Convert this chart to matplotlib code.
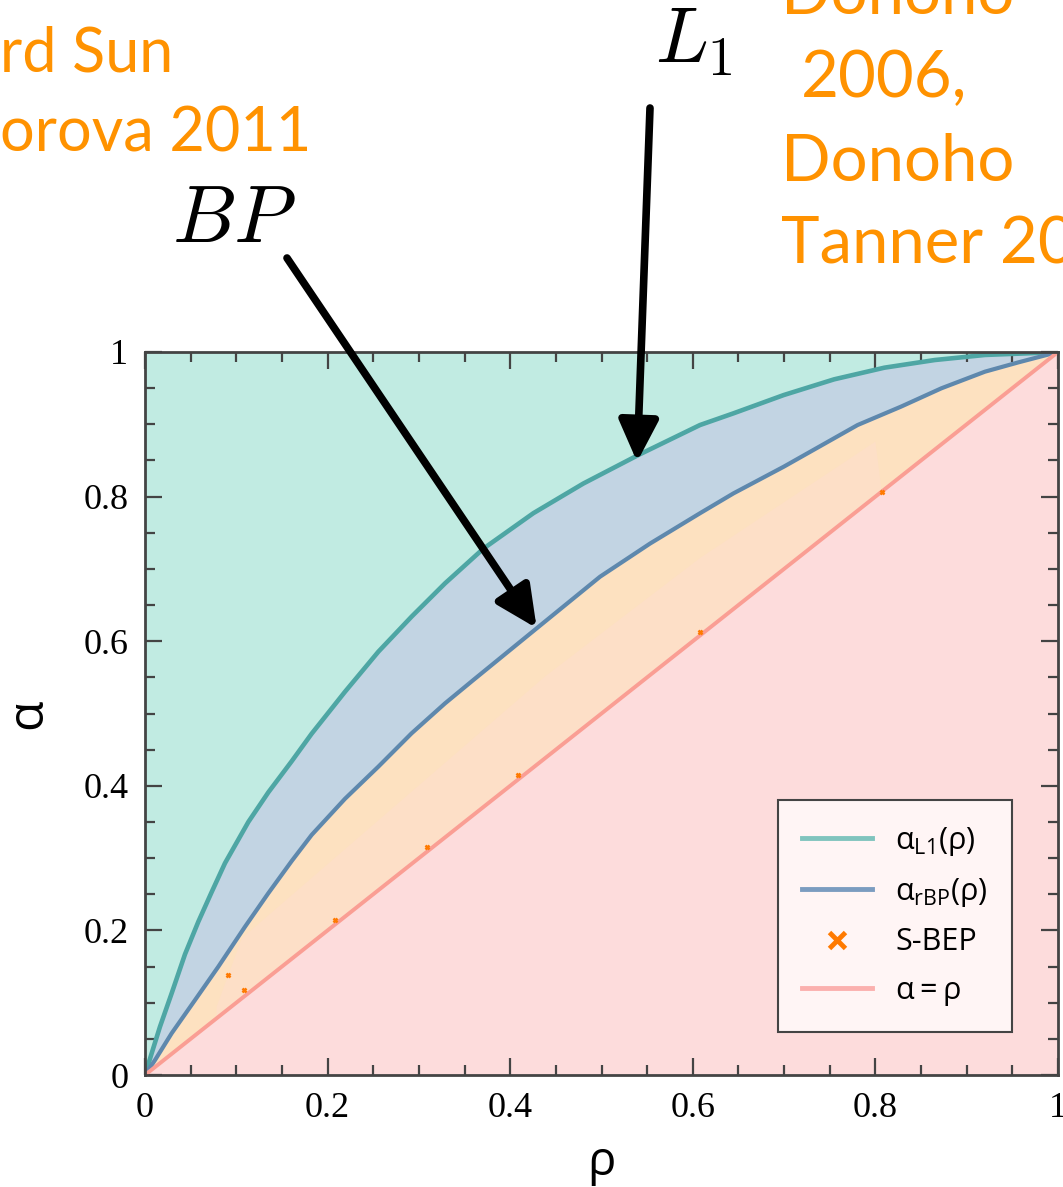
import matplotlib
matplotlib.use('Agg')
import matplotlib.pyplot as plt
from matplotlib.lines import Line2D
from matplotlib.ticker import MultipleLocator

# curves
rho_l1 = [0, 0.0073, 0.0164, 0.0292, 0.0438, 0.0584, 0.073, 0.0876, 0.1132, 0.1351,
          0.1607, 0.1825, 0.219, 0.2556, 0.292, 0.3286, 0.3706, 0.4253, 0.480, 0.5403,
          0.6079, 0.6446, 0.6997, 0.7548, 0.8098, 0.865, 0.920, 0.975, 1.0]
alpha_l1 = [0, 0.030, 0.0668, 0.113, 0.167, 0.212, 0.253, 0.293, 0.350, 0.391,
            0.434, 0.472, 0.530, 0.5855, 0.634, 0.680, 0.728, 0.777, 0.818, 0.8575,
            0.899, 0.9152, 0.9405, 0.9622, 0.9783, 0.9889, 0.9959, 0.9986, 1.0]

rho_bp = [0, 0.011, 0.0292, 0.0548, 0.0803, 0.1095, 0.135, 0.1607, 0.1825, 0.219,
          0.2556, 0.292, 0.3286, 0.3596, 0.429, 0.4984, 0.5531, 0.6079, 0.6446, 0.6997,
          0.7805, 0.828, 0.8723, 0.920, 0.9567, 1.0]
alpha_bp = [0, 0.0207, 0.0577, 0.1037, 0.1498, 0.205, 0.2513, 0.296, 0.332, 0.382,
            0.4265, 0.4726, 0.514, 0.5463, 0.6178, 0.6892, 0.735, 0.777, 0.8045, 0.8414,
            0.899, 0.9244, 0.9498, 0.9728, 0.9857, 1.0]

# faint S-BEP region inside the orange band
sbep_reg_rho = [0.0785, 0.106, 0.438, 0.6079, 0.80, 0.807, 0.0785]
sbep_reg_alpha = [0.0945, 0.189, 0.551, 0.715, 0.876, 0.806, 0.0785]

sbep_rho = [0.0905, 0.108, 0.208, 0.3085, 0.408, 0.608, 0.807]
sbep_alpha = [0.138, 0.1176, 0.215, 0.316, 0.4145, 0.613, 0.806]

diag = [0, 1]

ticks = [0, 0.2, 0.4, 0.6, 0.8, 1]
tick_labels = ['0', '0.2', '0.4', '0.6', '0.8', '1']
legend_labels = [r'$\mathregular{α_{L1}(ρ)}$', r'$\mathregular{α_{rBP}(ρ)}$',
                 'S-BEP', r'$\mathregular{α = ρ}$']

teal_fill, blue_fill, orange_fill, pink_fill = '#c1ebe2', '#c2d4e3', '#fde1c0', '#fddcdc'
teal_line, blue_line, pink_line = '#4ea6a4', '#5e88ad', '#fa9e94'
orange = '#ff9200'
mark = '#ff7a00'
gray = '#444444'

fig = plt.figure(figsize=(10.63, 11.87), dpi=100)
ax = fig.add_axes([145 / 1063, 1 - 1075 / 1187, 913 / 1063, 723 / 1187])

ax.set_facecolor(teal_fill)
ax.fill_between(rho_l1, 0, alpha_l1, color=blue_fill, lw=0)
ax.fill_between(rho_bp, 0, alpha_bp, color=orange_fill, lw=0)
ax.fill(sbep_reg_rho, sbep_reg_alpha, color='#fddfc7', lw=0)
ax.fill_between(diag, 0, diag, color=pink_fill, lw=0)

ax.plot(rho_l1, alpha_l1, color=teal_line, lw=3.3)
ax.plot(rho_bp, alpha_bp, color=blue_line, lw=3)
ax.plot(diag, diag, color=pink_line, lw=2.8)
ax.plot(sbep_rho, sbep_alpha, ls='none', marker='x', ms=3, mew=1.8, color=mark)

ax.set_xlim(0, 1)
ax.set_ylim(0, 1)
ax.set_xticks(ticks, tick_labels)
ax.set_yticks(ticks, tick_labels)
ax.xaxis.set_minor_locator(MultipleLocator(0.05))
ax.yaxis.set_minor_locator(MultipleLocator(0.05))
ax.tick_params(which='both', direction='in', top=True, right=True, color=gray, width=1.6)
ax.tick_params(which='major', length=12, labelsize=26, pad=12)
ax.tick_params(which='minor', length=7)
for lab in ax.get_xticklabels() + ax.get_yticklabels():
    lab.set_fontfamily('Liberation Serif')
for s in ax.spines.values():
    s.set_color(gray)
    s.set_linewidth(2)

ax.set_xlabel('ρ', fontsize=34, family='Open Sans')
ax.set_ylabel('α', fontsize=36, family='Open Sans')
ax.xaxis.set_label_coords(0.5, -0.088)
ax.yaxis.set_label_coords(-0.10, 0.5)

handles = [Line2D([], [], color='#80c4be', lw=3.5),
           Line2D([], [], color='#7b9cc0', lw=3.5),
           Line2D([], [], ls='none', marker='x', ms=11, mew=3.5, color=mark),
           Line2D([], [], color='#fbb0ae', lw=3.5)]
leg = ax.legend(handles, legend_labels, loc='upper right', bbox_to_anchor=(0.9496, 0.380),
                borderaxespad=0, fancybox=False, framealpha=1, facecolor='#fff5f5',
                edgecolor=gray, prop={'family': 'Open Sans', 'size': 22},
                handlelength=2.3, handletextpad=0.75, labelspacing=0.6, borderpad=0.8)
leg.get_frame().set_linewidth(1.5)

# arrows pointing at the two curves
arrow = dict(arrowstyle='-|>,head_length=1.25,head_width=0.6', lw=5.5, color='black',
             mutation_scale=20, shrinkA=0, shrinkB=0)
ax.annotate('', xy=(0.539, 0.848), xytext=(650, 1187 - 108), textcoords='figure pixels',
            arrowprops=arrow, annotation_clip=False)
ax.annotate('', xy=(0.429, 0.618), xytext=(287, 1187 - 258), textcoords='figure pixels',
            arrowprops=arrow, annotation_clip=False)

fig.text(655 / 1063, 1 - 63 / 1187, r'$L_1$', fontsize=56, math_fontfamily='cm', va='baseline')
fig.text(172 / 1063, 1 - 242 / 1187, r'$BP$', fontsize=58, math_fontfamily='cm', va='baseline')

# references (cut at the edges as in the slide)
ref_kw = dict(color=orange, fontsize=47, family='Lato', va='baseline')
fig.text(0, 1 - 72 / 1187, 'rd Sun', **{**ref_kw, 'fontsize': 44})
fig.text(0, 1 - 152 / 1187, 'orova 2011', **{**ref_kw, 'fontsize': 44})
fig.text(781 / 1063, 1 - 14 / 1187, 'Donoho', **ref_kw)
fig.text(801 / 1063, 1 - 97 / 1187, '2006,', **ref_kw)
fig.text(781 / 1063, 1 - 181 / 1187, 'Donoho', **ref_kw)
fig.text(781 / 1063, 1 - 263 / 1187, 'Tanner 20', **ref_kw)

fig.savefig('out.png', dpi=100)
